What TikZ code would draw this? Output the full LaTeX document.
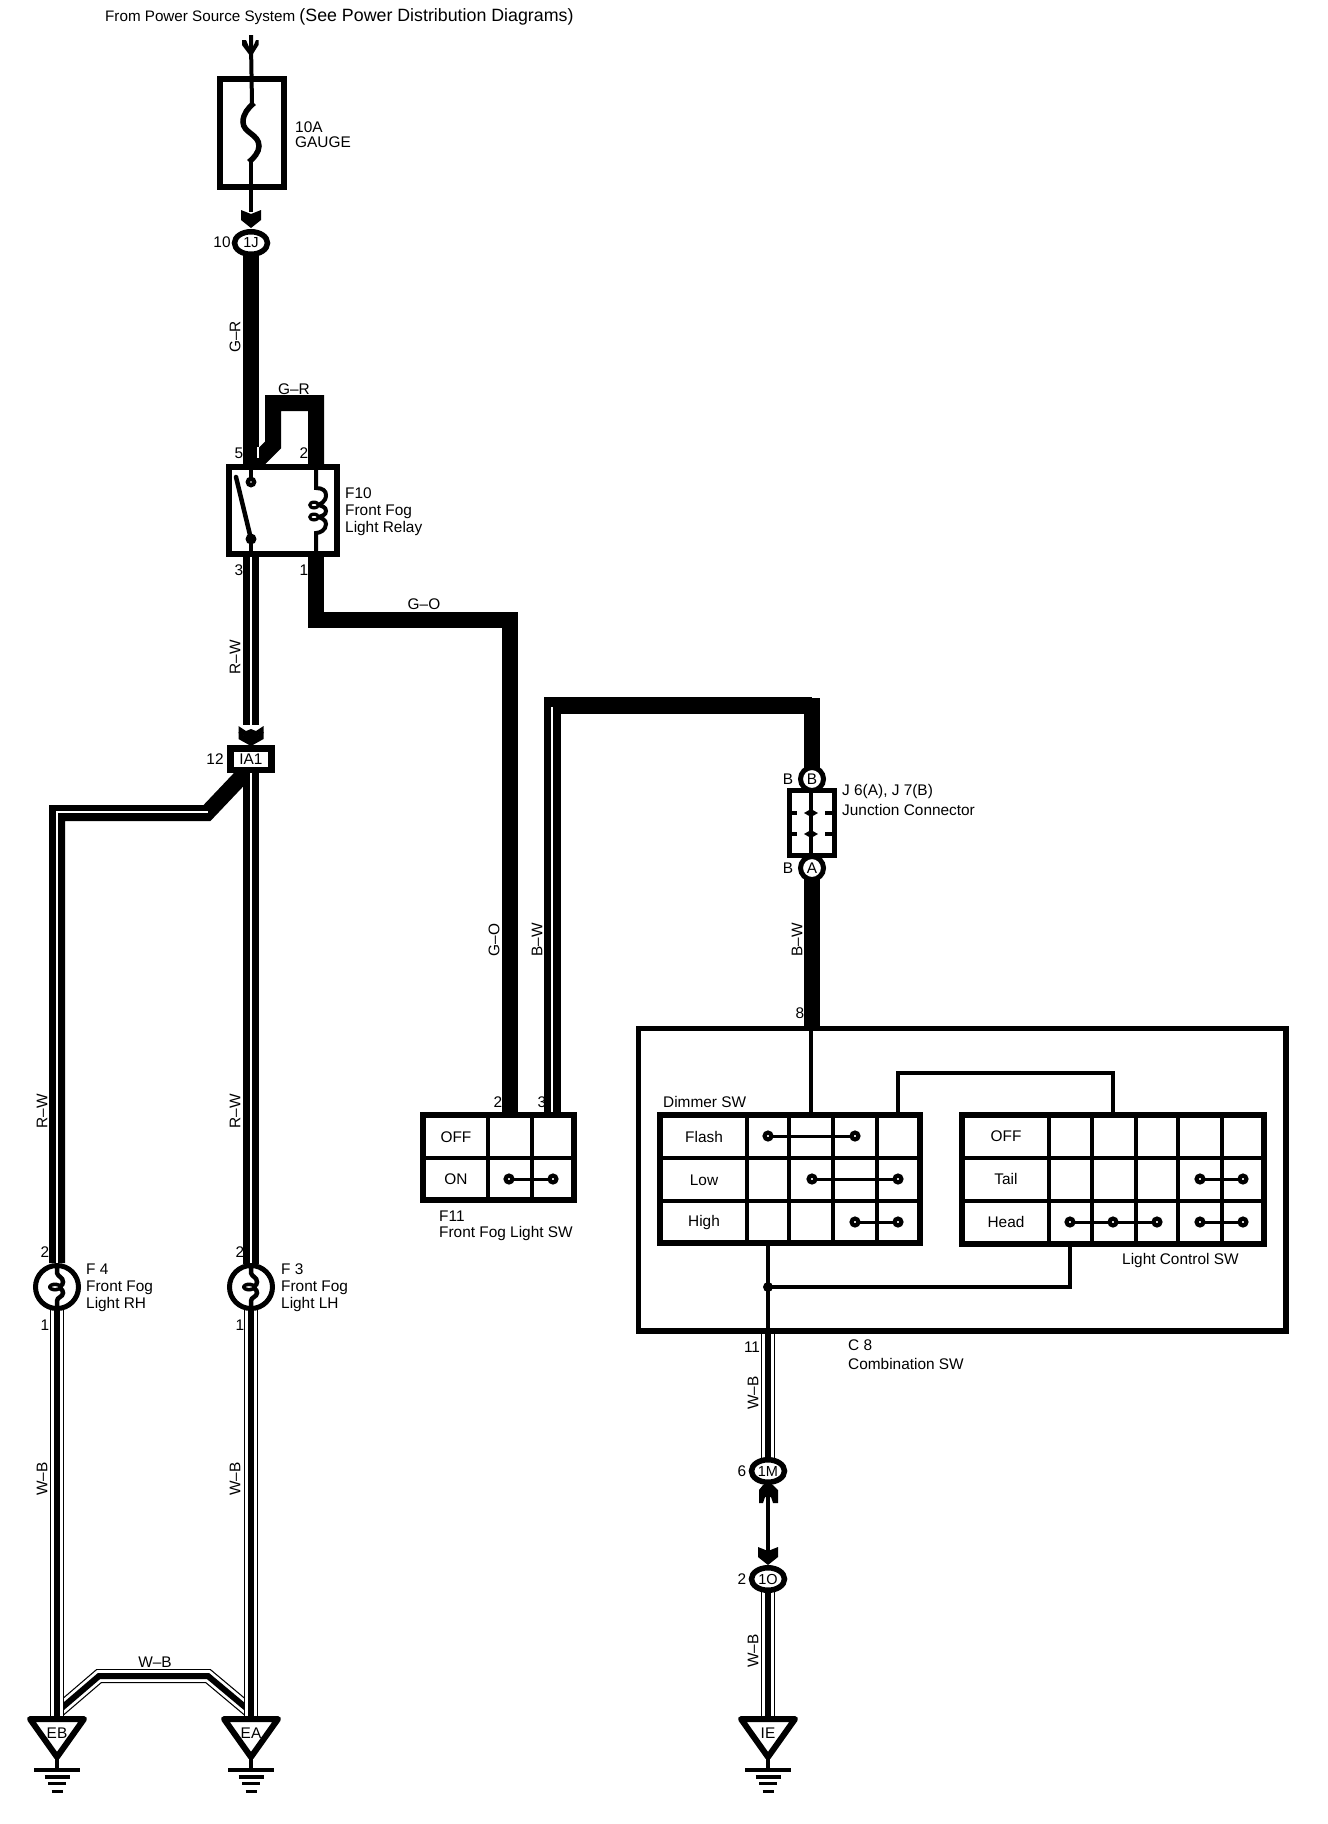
\documentclass[tikz,border=0pt]{standalone}
\usepackage{fontspec}
\setmainfont{Liberation Sans}
\usetikzlibrary{calc,shapes.geometric}
\tikzset{
  lbl/.style={font=\fontsize{15.4}{17}\selectfont,inner sep=0pt,text=black},
  lft/.style={lbl,anchor=west,align=left},
  rot/.style={lbl,rotate=90},
  hw/.style={line width=16pt,black,line join=miter},
  wline/.style={line width=1.2pt,white},
  tw/.style={line width=4pt,black},
  frame/.style={line width=5.5pt,black,line join=miter},
  grid/.style={line width=4pt,black},
  cell/.style={line width=3pt,black},
  contact/.style={circle,draw=black,fill=white,line width=4.2pt,minimum size=6.8pt,inner sep=0pt},
  conn/.style={ellipse,draw=black,fill=white,line width=5.5pt,minimum width=33pt,minimum height=22.5pt,inner sep=0pt,font=\fontsize{14.5}{16}\selectfont},
  round/.style={circle,draw=black,fill=white,line width=5pt,minimum size=23pt,inner sep=0pt,font=\fontsize{15.4}{17}\selectfont},
  lamp/.style={circle,draw=black,fill=white,line width=5pt,minimum size=43pt,inner sep=0pt},
}
% W-B wire: outline, white, centre
\newcommand{\wbwire}[1]{%
  \draw[black,line width=14pt,line join=miter] #1;
  \draw[white,line width=11.6pt,line join=miter] #1;
  \draw[black,line width=6pt,line join=miter] #1;}
% R-W type wire: heavy with thin white tracer
\newcommand{\trwire}[1]{%
  \draw[hw] #1;
  \draw[wline,line join=miter] #1;}
% chevron arrow pointing down, tip at given point
\newcommand{\chev}[1]{%
  \fill[black] ($#1+(-10,-18)$) -- ($#1+(-5,-16)$) -- ($#1+(0,-14)$) -- ($#1+(5,-16)$) -- ($#1+(10,-18)$) -- ($#1+(10,-8)$) -- ($#1+(0,0)$) -- ($#1+(-10,-8)$) -- cycle;}
% larger chevron for the double arrow above IA1
\newcommand{\chevbig}[1]{%
  \fill[black] ($#1+(-12.5,-14)$) -- ($#1+(-5,-9)$) -- ($#1+(0,-11)$) -- ($#1+(5,-9)$) -- ($#1+(12.5,-14)$) -- ($#1+(12.5,-7)$) -- ($#1+(0,0)$) -- ($#1+(-12.5,-7)$) -- cycle;}
% ground: triangle and four bars
\newcommand{\gnd}[3]{%
  \node[lbl] (#3) at (#1,1733) {#2};
  \draw[frame,line width=6pt,line join=round] (#1-27,1719) -- (#1+27,1719) -- (#1,1757) -- cycle;
  \draw[tw] (#1,1757) -- (#1,1770);
  \draw[black,line width=4pt] (#1-23,1770) -- (#1+23,1770);
  \draw[black,line width=4pt] (#1-12.5,1776.5) -- (#1+12.5,1776.5);
  \draw[black,line width=3pt] (#1-9,1783.5) -- (#1+9,1783.5);
  \draw[black,line width=3pt] (#1-5.5,1791) -- (#1+5.5,1791);}
% lamp
\newcommand{\lampsym}[2]{%
  \node[lamp] (#2) at (#1,1287) {};
  \draw[black,line width=4.5pt] (#1,1266) -- (#1,1273) .. controls (#1+1,1277) and (#1+6,1277) .. (#1+6,1282) .. controls (#1+6,1286) and (#1+2,1286) .. (#1+2,1287) .. controls (#1+2,1288) and (#1+6,1289) .. (#1+6,1293) .. controls (#1+6,1297) and (#1,1297) .. (#1,1301) -- (#1,1308);
  \fill[black] (#1-2,1287) ellipse (7 and 4.5);
  \fill[white] (#1-2,1287) ellipse (3 and 0.8);}
\begin{document}
\begin{tikzpicture}[x=1pt,y=-1pt]
\useasboundingbox (0,0) rectangle (1328,1824);
\fill[white] (0,0) rectangle (1328,1824);

% ---------- named points
\coordinate (srctop) at (251,45);
\coordinate (fusein) at (252,103);
\coordinate (fuseout) at (251,162);
\coordinate (chA) at (251,228);
\coordinate (relayIn) at (251,482);
\coordinate (relayOut) at (251,539);
\coordinate (iaC) at (251,759);

% ---------- source + fuse
\fill[black] (242,40) -- (246,40) -- (249,47) -- (249,35) -- (253,35) -- (253,47) -- (256,40) -- (258.5,40) -- (258.5,45) -- (251,57) -- (242,45) -- cycle;
\node[draw=black,line width=6pt,minimum width=64pt,minimum height=108pt,inner sep=0pt] (fuse) at (252,133) {};
\draw[tw] (srctop) -- (fusein);
\draw[black,line width=5.5pt] (254,103) .. controls (248,108) and (243,114) .. (243,122) .. controls (243,133) and (259,134) .. (259,146) .. controls (259,152) and (254,158) .. (249,162);
\draw[tw] (fuseout) -- (251,212);
\node[lft] (fuselbl) at (295,127) {10A};
\node[lft] (fuselbl2) at (295,142) {GAUGE};
\chev{(chA)}

% ---------- G-R wires to relay
\draw[hw] (251,243) -- (251,466);
\draw[hw] (316,470) -- (316,403) -- (273,403) -- (273,445) -- (252,466);
\draw[white,line width=1.3pt] (258,447) -- (258,458);

% ---------- 1J
\node[conn] (c1J) at (251,243) {1J};
\node[lbl] (n10) at (222,242) {10};

% ---------- R-W from relay to IA1
\trwire{(251,555) -- (251,725)}
\chevbig{(251,740)}
\chevbig{(251,746)}

% ---------- relay
\node[draw=black,fill=white,line width=6pt,minimum width=108pt,minimum height=87pt,inner sep=0pt] (relay) at (283,510.5) {};
\draw[tw] (251,467) -- (relayIn);
\draw[tw] (relayOut) -- (251,554);
\fill[black] (relayIn) circle (5.5);
\fill[black] (relayOut) circle (5.5);
\fill[white] (relayIn) circle (0.8);
\fill[white] (relayOut) circle (0.8);
\draw[black,line width=4.5pt,line cap=round] (236,477) -- (relayOut);
\draw[black,line width=4pt] (316,467) -- (316,488) .. controls (323,488) and (326,491) .. (326,495) .. controls (326,502) and (320,504) .. (318,505) .. controls (322,506) and (326,507) .. (326,511) .. controls (326,515) and (322,516) .. (318,517) .. controls (322,518) and (326,520) .. (326,524) .. controls (326,530) and (320,533) .. (316,533) -- (316,554);
\fill[black] (314,505) ellipse (6 and 4.5);
\fill[black] (314,517) ellipse (6 and 4.5);
\fill[white] (314,505) ellipse (2.5 and 1);
\fill[white] (314,517) ellipse (2.5 and 1);
\node[lft] (f10a) at (345,493) {F10};
\node[lft] (f10b) at (345,512) {Front Fog};
\node[lft] (f10c) at (345,529) {Light Relay};
\node[lbl] (p5) at (239,453) {5};
\node[lbl] (p2) at (304,453) {2};
\node[lbl] (p3) at (239,570) {3};
\node[lbl] (p1) at (304,570) {1};
\node[lbl] (lGR) at (294,389) {G--R};
\node[rot] (lGRv) at (235,337) {G--R};
\node[rot] (lRW) at (235,657) {R--W};

% ---------- G-O wire relay to F11
\draw[hw] (316,557) -- (316,619.5) -- (510,619.5) -- (510,1112);
\node[lbl] (lGO) at (424,604) {G--O};
\node[rot] (lGOv) at (494,940) {G--O};

% ---------- IA1 and its branches
\draw[hw] (251,772) -- (251,775);
\draw[hw] (57,1263) -- (57,813) -- (207,813) -- (244,774);
\draw[wline,line join=miter] (57,1263) -- (57,812) -- (208,812);
\trwire{(251,772) -- (251,1264)}
\node[draw=black,fill=white,line width=6.5pt,minimum width=41pt,minimum height=21.5pt,inner sep=0pt,font=\fontsize{15.4}{17}\selectfont] (ia1) at (iaC) {IA1};
\node[lbl] (n12) at (215,759) {12};
\node[rot] (lRW1) at (42,1111) {R--W};
\node[rot] (lRW2) at (235,1111) {R--W};

% ---------- cross wire and lamps' return
\wbwire{(57,1712) -- (99,1676) -- (208,1676) -- (251,1712)}
\wbwire{(57,1305) -- (57,1718)}
\wbwire{(251,1305) -- (251,1718)}
\lampsym{57}{f4}
\lampsym{251}{f3}
\node[lft] (f4a) at (86,1269) {F 4};
\node[lft] (f4b) at (86,1288) {Front Fog};
\node[lft] (f4c) at (86,1305) {Light RH};
\node[lft] (f3a) at (281,1269) {F 3};
\node[lft] (f3b) at (281,1288) {Front Fog};
\node[lft] (f3c) at (281,1305) {Light LH};
\node[lbl] (q2a) at (45,1252) {2};
\node[lbl] (q1a) at (45,1325) {1};
\node[lbl] (q2b) at (240,1252) {2};
\node[lbl] (q1b) at (240,1325) {1};
\node[rot] (lWBa) at (42,1479) {W--B};
\node[rot] (lWBb) at (235,1479) {W--B};
\node[lbl] (lWBh) at (155,1662) {W--B};
\gnd{57}{EB}{gEB}
\gnd{251}{EA}{gEA}

% ---------- F11 switch
\draw[line width=17pt,black,line join=miter] (552.5,1112) -- (552.5,705.5) -- (812,705.5);
\draw[hw] (812,698) -- (812,779);
\draw[wline] (552,1112) -- (552,707);
\node[rot] (lBW) at (537,940) {B--W};
\node[lbl] (r2) at (498,1102) {2};
\node[lbl] (r3) at (542,1102) {3};
\draw[frame] (423,1115) rectangle (574,1200);
\draw[grid] (423,1158) -- (574,1158);
\draw[grid] (488,1115) -- (488,1200);
\draw[grid] (532,1115) -- (532,1200);
\node[lbl] (fOff) at (456,1137) {OFF};
\node[lbl] (fOn) at (456,1179) {ON};
\draw[cell] (509,1179) -- (553,1179);
\node[contact] (fa) at (509,1179) {};
\node[contact] (fb) at (553,1179) {};
\node[lft] (f11a) at (439,1216) {F11};
\node[lft] (f11b) at (439,1234) {Front Fog Light SW};

% ---------- junction connector
\draw[hw] (812,868) -- (812,1031);
\node[rot] (lBWr) at (797,940) {B--W};
\node[draw=black,fill=white,line width=5.5pt,minimum width=45pt,minimum height=65pt,inner sep=0pt] (jc) at (812,823) {};
\draw[grid] (811,790) -- (811,856);
\foreach \yy in {813,834} {
  \draw[grid] (790,\yy) -- (797,\yy);
  \draw[grid] (825,\yy) -- (834,\yy);
  \fill[black] (804,\yy) -- (811,\yy-4) -- (818,\yy) -- (811,\yy+4) -- cycle;
}
\node[round] (cB) at (812,779) {B};
\node[round] (cA) at (812,868) {A};
\node[lbl] (bB) at (788,779) {B};
\node[lbl] (bA) at (788,868) {B};
\node[lft] (ja) at (842,792) {J 6(A), J 7(B)};
\node[lft] (jb) at (842,810) {Junction Connector};

% ---------- combination switch
\draw[frame] (638.5,1028.5) rectangle (1286,1331);
\node[lbl] (p8) at (800,1013) {8};
\node[lbl] (p11) at (752,1347) {11};
\node[lft] (c8a) at (848,1345) {C 8};
\node[lft] (c8b) at (848,1364) {Combination SW};
\draw[tw] (811,1030) -- (811,1112);
\draw[tw] (898,1112) -- (898,1073) -- (1113,1073) -- (1113,1112);
\draw[tw,line width=4.5pt] (768,1246) -- (768,1331);
\draw[tw] (768,1287) -- (1070,1287) -- (1070,1246);
\fill[black] (768,1287) circle (5);

% Dimmer SW table
\node[lft] (dim) at (663,1102) {Dimmer SW};
\draw[frame] (660,1115) rectangle (920,1243);
\draw[grid] (660,1158) -- (920,1158);
\draw[grid] (660,1201) -- (920,1201);
\foreach \xx in {747,789,833,877} \draw[grid] (\xx,1115) -- (\xx,1243);
\node[lbl] (dF) at (704,1137) {Flash};
\node[lbl] (dL) at (704,1180) {Low};
\node[lbl] (dH) at (704,1223) {High};
\draw[cell] (768,1136) -- (855,1136);
\draw[cell] (812,1179) -- (898,1179);
\draw[cell] (855,1222) -- (898,1222);
\node[contact] (d1) at (768,1136) {};
\node[contact] (d2) at (855,1136) {};
\node[contact] (d3) at (812,1179) {};
\node[contact] (d4) at (898,1179) {};
\node[contact] (d5) at (855,1222) {};
\node[contact] (d6) at (898,1222) {};

% Light control table
\draw[frame] (962,1115) rectangle (1264,1244);
\draw[grid] (962,1158) -- (1264,1158);
\draw[grid] (962,1201) -- (1264,1201);
\foreach \xx in {1049,1092,1136,1178,1222} \draw[grid] (\xx,1115) -- (\xx,1244);
\node[lbl] (lO) at (1006,1136) {OFF};
\node[lbl] (lT) at (1006,1179) {Tail};
\node[lbl] (lH) at (1006,1222) {Head};
\draw[cell] (1200,1179) -- (1243,1179);
\draw[cell] (1070,1222) -- (1157,1222);
\draw[cell] (1200,1222) -- (1243,1222);
\node[contact] (l1) at (1200,1179) {};
\node[contact] (l2) at (1243,1179) {};
\node[contact] (l3) at (1070,1222) {};
\node[contact] (l4) at (1113,1222) {};
\node[contact] (l5) at (1157,1222) {};
\node[contact] (l6) at (1200,1222) {};
\node[contact] (l7) at (1243,1222) {};
\node[lft] (lcs) at (1122,1261) {Light Control SW};

% ---------- down to ground IE
\wbwire{(768,1334) -- (768,1471)}
\node[rot] (lWBc) at (753,1393) {W--B};
\draw[tw,line width=4.5pt] (768,1485) -- (768,1560);
\node[conn] (c1M) at (768,1471) {1M};
\node[lbl] (n6) at (742,1471) {6};
\fill[black] (759,1503) -- (759,1490) -- (763,1485) -- (773,1485) -- (778,1490) -- (778,1503) -- (773,1503) -- (771,1497) -- (765,1497) -- (763,1503) -- cycle;
\chev{(768,1565)}
\wbwire{(768,1590) -- (768,1718)}
\node[conn] (c1O) at (768,1579) {1O};
\node[lbl] (n2) at (742,1579) {2};
\node[rot] (lWBd) at (753,1651) {W--B};
\gnd{768}{IE}{gIE}

% ---------- title
\node[lbl,anchor=base west] (title) at (105,21) {\fontsize{15.2}{17}\selectfont From Power Source System \fontsize{17.8}{17}\selectfont (See Power Distribution Diagrams)};
\end{tikzpicture}
\end{document}
